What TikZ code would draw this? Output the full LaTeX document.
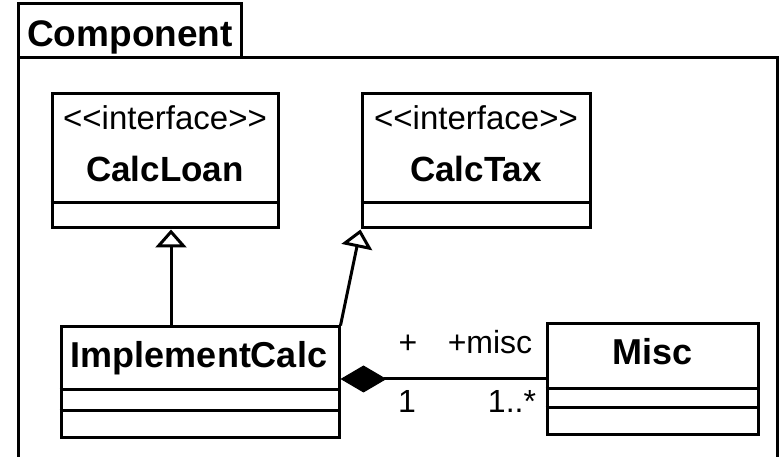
\documentclass[tikz,border=0pt]{standalone}
\usepackage{fontspec}
\setmainfont{Liberation Sans}
\usetikzlibrary{arrows.meta,calc}
\begin{document}
\begin{tikzpicture}[x=1pt,y=-1pt,line width=3pt,
  cls/.style={draw,rectangle,inner sep=0pt},
  stereo/.style={anchor=base,inner sep=0pt,font=\fontsize{33}{36}\selectfont},
  cname/.style={anchor=base,inner sep=0pt,font=\fontsize{36}{40}\selectfont\bfseries},
  lbl/.style={anchor=base,inner sep=0pt,font=\fontsize{32}{36}\selectfont},
  gen/.style={-{Triangle[open,length=18pt,width=31pt,line width=3pt]}},
  comp/.style={{Diamond[fill=black,length=46pt,width=27pt,line width=1pt]}-}]
\useasboundingbox (0,0) rectangle (780,457);
% package
\draw (18,4) rectangle (241,58);
\draw (18,460) -- (18,58) -- (777,58) -- (777,460);
\node[cname,font=\fontsize{37}{40}\selectfont\bfseries] (pkg) at (130,47) {Component};
% classes
\node[cls,minimum width=226pt,minimum height=134pt] (loan) at (165,161) {};
\node[cls,minimum width=228pt,minimum height=134pt] (tax) at (476,161) {};
\node[cls,minimum width=278pt,minimum height=110pt] (impl) at (200,382) {};
\node[cls,minimum width=211pt,minimum height=110pt] (misc) at (652.5,379) {};
% dividers
\draw (loan.west |- 0,203) -- (loan.east |- 0,203);
\draw (tax.west |- 0,203) -- (tax.east |- 0,203);
\draw (impl.west |- 0,390) -- (impl.east |- 0,390);
\draw (impl.west |- 0,410) -- (impl.east |- 0,410);
\draw (misc.west |- 0,389) -- (misc.east |- 0,389);
\draw (misc.west |- 0,407) -- (misc.east |- 0,407);
% texts
\node[stereo] (loanst) at (165,130) {<\kern0pt<interface>\kern0pt>};
\node[cname,font=\fontsize{35}{40}\selectfont\bfseries] (loann) at (165,182) {CalcLoan};
\node[stereo] (taxst) at (476,130) {<\kern0pt<interface>\kern0pt>};
\node[cname,font=\fontsize{35}{40}\selectfont\bfseries] (taxn) at (476,182) {CalcTax};
\node[cname] (impln) at (199,368) {ImplementCalc};
\node[cname] (miscn) at (652.5,365) {Misc};
% connectors
\draw[gen] ([xshift=6pt]loan.south |- impl.north) -- ([xshift=6pt]loan.south);
\draw[gen] (impl.north east) -- (tax.south west);
\draw[comp] (impl.east |- misc.west) -- (misc.west);
% labels
\node[lbl] (l1) at (408,354) {+};
\node[lbl] (l2) at (490,354) {+misc};
\node[lbl] (l3) at (407,412) {1};
\node[lbl] (l4) at (512,412) {1..*};
\end{tikzpicture}
\end{document}
